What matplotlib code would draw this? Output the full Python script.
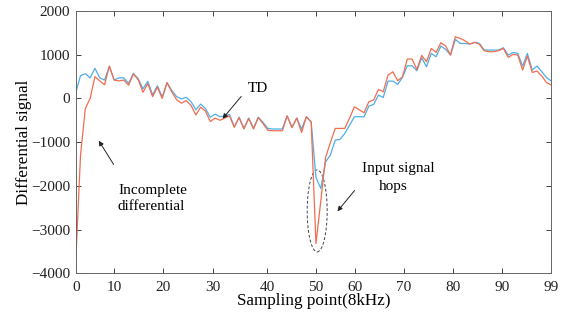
import numpy as np
import matplotlib.pyplot as plt
from matplotlib.patches import Ellipse

plt.rcParams['font.family'] = ['Liberation Serif', 'DejaVu Serif']

# sampling index 0..99
samples = np.arange(100)

# TD output (blue)
td_signal = [130, 520, 565, 470, 690, 470, 420, 730, 420, 470,
             470, 345, 570, 450, 220, 390, 80, 290, 35, 360,
             180, 40, -10, 25, -75, -260, -130, -230, -430, -360,
             -420, -400, -370, -650, -430, -680, -450, -680, -430, -550,
             -690, -700, -700, -700, -400, -660, -450, -700, -420, -540,
             -1808, -2060, -1450, -1297, -954, -939, -801, -610, -420, -420,
             -420, -176, -138, 76, 22, 396, 396, 320, 480, 747,
             747, 633, 930, 724, 1029, 953, 1197, 1121, 991, 1350,
             1258, 1258, 1243, 1281, 1258, 1106, 1106, 1106, 1106, 1159,
             991, 1052, 1029, 740, 1029, 648, 740, 610, 473, 396]

# incomplete differential output (orange)
incomplete_diff = [-3750, -1300, -230, 0, 500, 400, 310, 740, 420, 400,
                   420, 300, 560, 430, 140, 340, 40, 260, 0, 360,
                   150, -30, -110, -50, -160, -380, -200, -290, -530, -450,
                   -500, -450, -400, -660, -440, -700, -460, -700, -440, -580,
                   -730, -740, -740, -740, -400, -670, -450, -780, -420, -540,
                   -3320, -2350, -1350, -1010, -687, -687, -687, -450, -191, -260,
                   -328, -76, -38, 206, 153, 534, 610, 404, 496, 900,
                   900, 663, 984, 839, 1144, 1053, 1274, 1198, 992, 1411,
                   1373, 1320, 1243, 1282, 1243, 1091, 1068, 1068, 1091, 1144,
                   938, 1007, 992, 648, 969, 595, 625, 511, 359, 305]

# tick labels as printed (their positions on the axis are uneven in the original)
xtick_labels = ['0', '10', '20', '30', '40', '50', '60', '70', '80', '90', '99']
xtick_pos = [0, 8.0, 18.2, 28.6, 39.8, 50, 58.1, 68.3, 78.5, 88.7, 99]
yticks = [-4000, -3000, -2000, -1000, 0, 1000, 2000]

fig = plt.figure(figsize=(5.65, 3.23), dpi=100)
ax = fig.add_axes([0.134, 0.154, 0.842, 0.812])

ax.plot(samples, td_signal, color='#4DAEE8', lw=0.9)
ax.plot(samples, incomplete_diff, color='#F26D4F', lw=0.9)

ax.set_xlim(0, 99)
ax.set_ylim(-4000, 2000)
ax.set_xticks(xtick_pos)
ax.set_xticklabels(xtick_labels)
ax.set_yticks(yticks)
ax.tick_params(direction='in', top=True, right=True, length=3.6, width=0.6,
               labelsize=11, colors='#222222', pad=4)
ax.tick_params(axis='x', pad=5.5)
for s in ax.spines.values():
    s.set_color('#666666')
    s.set_linewidth(0.7)

ax.set_xlabel('Sampling point(8kHz)', fontsize=12.3, labelpad=-1)
ax.set_ylabel('Differential signal', fontsize=12.3, labelpad=-1)

# dashed ellipse round the input jump
ax.add_patch(Ellipse((50.25, -2574), 4.16, 1876, fill=False,
                     ls=(0, (3, 2)), lw=0.7, edgecolor='#444444'))

arrow = dict(arrowstyle='-|>', color='#222222', lw=0.7, mutation_scale=7)
ax.annotate('', xy=(30.2, -512), xytext=(34.8, 92), arrowprops=arrow)
ax.text(37.9, 236, 'TD', fontsize=11, ha='center', va='center')

ax.annotate('', xy=(4.5, -915), xytext=(8.2, -1565), arrowprops=arrow)
ax.text(8.8, -2293, 'Incomplete\ndifferential', fontsize=11,
        ha='left', va='center', linespacing=1.25)

ax.annotate('', xy=(54.1, -2631), xytext=(58.4, -2059), arrowprops=arrow)
ax.text(67.2, -1600, 'Input signal', fontsize=11, ha='center', va='center')
ax.text(66.0, -2020, 'hops', fontsize=11, ha='center', va='center')

fig.savefig('out.png', dpi=100)
